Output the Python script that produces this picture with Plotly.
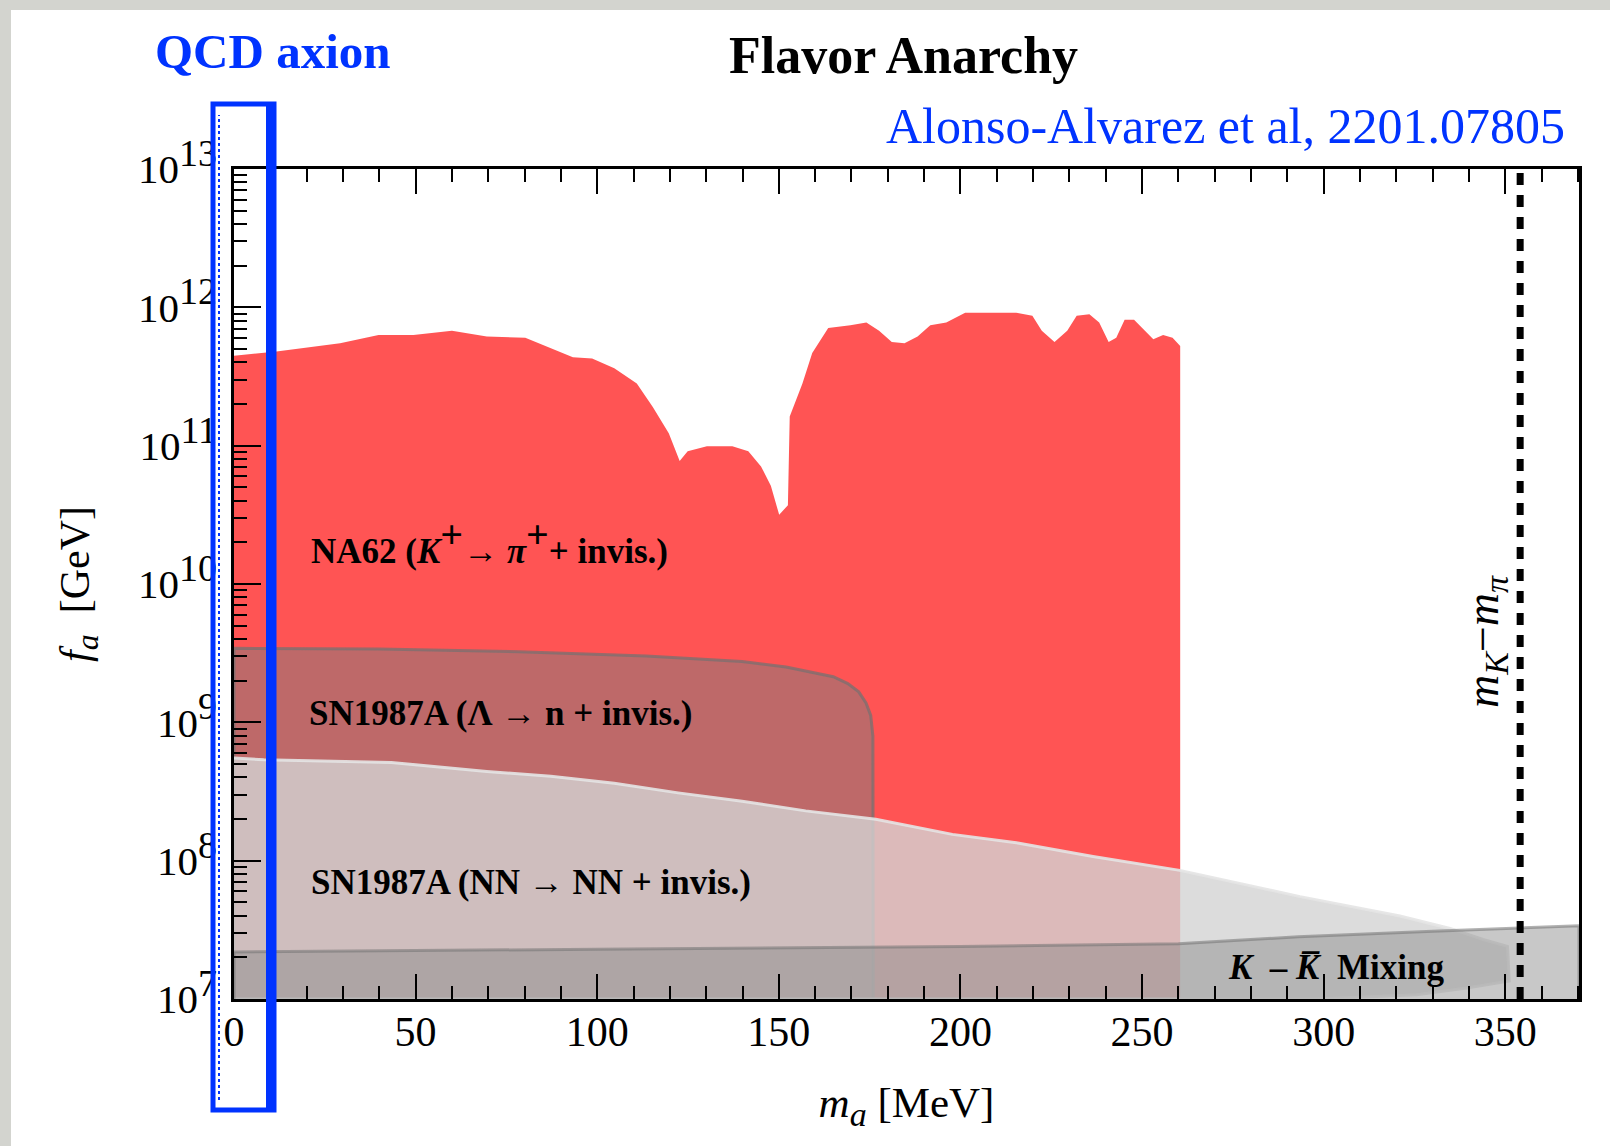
import plotly.graph_objects as go

# ---------------- data ----------------
# NA62 (K+ -> pi+ + invis.) upper boundary : m_a [MeV], log10(f_a/GeV)
na62_ma = [0, 11.7, 29.2, 39.8, 49.4, 60.0, 69.6, 80.2, 93.3, 98.6, 104.7, 110.9,
           115.3, 119.7, 122.7, 124.9, 130.2, 137.2, 141.6, 145.1, 147.8, 150.1,
           152.5, 153.0, 156.5, 159.2, 163.6, 169.7, 174.1, 177.6, 181.1, 184.6,
           188.2, 191.7, 196.1, 201.3, 208.3, 215.4, 219.8, 222.4, 225.9, 229.4,
           232.0, 235.5, 238.2, 240.8, 242.9, 245.2, 247.8, 250.5, 253.1, 255.8,
           258.4, 260.5]
na62_log_fa = [11.65, 11.68, 11.74, 11.80, 11.80, 11.83, 11.79, 11.78, 11.64, 11.63,
               11.56, 11.45, 11.28, 11.09, 10.89, 10.96, 10.995, 10.995, 10.96, 10.85,
               10.71, 10.50, 10.57, 11.21, 11.45, 11.67, 11.85, 11.87, 11.89, 11.83,
               11.75, 11.74, 11.79, 11.87, 11.89, 11.96, 11.96, 11.96, 11.94, 11.83,
               11.75, 11.83, 11.94, 11.95, 11.89, 11.75, 11.78, 11.91, 11.91, 11.84,
               11.77, 11.80, 11.78, 11.72]

# SN1987A (Lambda -> n + invis.)
lam_ma = [0, 40, 78.4, 113.5, 139.9, 152, 160, 165, 169, 172, 174, 175.3, 175.9, 176.0]
lam_log_fa = [9.535, 9.53, 9.51, 9.48, 9.44, 9.40, 9.36, 9.33, 9.28, 9.22, 9.14,
              9.05, 8.9, 7.0]

# SN1987A (NN -> NN + invis.) upper edge, then lower edge (right to left)
nn_upper_ma = [0, 8.2, 43.3, 69.6, 87.2, 104.7, 122.3, 139.9, 157.4, 176.7, 197.8,
               215.4, 236.5, 260.4, 293.5, 321.0, 334.8, 343.9, 350.6]
nn_upper_log_fa = [8.742, 8.73, 8.71, 8.645, 8.61, 8.56, 8.49, 8.43, 8.36, 8.30, 8.19,
                   8.13, 8.03, 7.93, 7.74, 7.60, 7.51, 7.43, 7.38]
nn_lower_ma = [351.1, 339.4, 325.6, 298.0, 0]
nn_lower_log_fa = [7.13, 7.08, 7.03, 7.0, 7.0]

# K - Kbar mixing upper edge
kk_ma = [0, 100, 200, 260, 293, 330, 370.3]
kk_log_fa = [7.34, 7.36, 7.38, 7.40, 7.45, 7.49, 7.53]

mk_minus_mpi = 354.1  # MeV

x_tick_vals = [0, 50, 100, 150, 200, 250, 300, 350]
y_tick_exponents = [7, 8, 9, 10, 11, 12, 13]
x_range = [0, 370.3]

# ---------------- layout geometry ----------------
FIG_W, FIG_H = 1610, 1146
M_L, M_R, M_T, M_B = 234, 31, 169, 147
PW = FIG_W - M_L - M_R
PH = FIG_H - M_T - M_B


def px_x(px):
    return (px - M_L) / PW


def px_y(py):
    return (FIG_H - M_B - py) / PH


FONT = "Liberation Serif"
RED = "#ff5454"
BLUE = "#0033ff"
YMIN = 10 ** y_tick_exponents[0]


def pow10(vals):
    return [10 ** v for v in vals]


def sup(t, px):
    return "<sup><span style='font-size:%dpx'>%s</span></sup>" % (px, t)


def sub(t, px):
    return "<sub><span style='font-size:%dpx'>%s</span></sub>" % (px, t)


fig = go.Figure()

# NA62
fig.add_trace(go.Scatter(
    x=[na62_ma[0]] + na62_ma + [na62_ma[-1]],
    y=[YMIN] + pow10(na62_log_fa) + [YMIN],
    fill="toself", fillcolor=RED, mode="lines", line=dict(width=0),
    name="NA62", showlegend=False, hoverinfo="skip"))

# SN1987A Lambda
fig.add_trace(go.Scatter(
    x=[lam_ma[0]] + lam_ma,
    y=[YMIN] + pow10(lam_log_fa),
    fill="toself", fillcolor="rgba(126,126,126,0.5)", mode="lines",
    line=dict(width=3, color="rgba(120,112,112,0.75)"),
    name="SN1987A Lambda", showlegend=False, hoverinfo="skip"))

# SN1987A NN
fig.add_trace(go.Scatter(
    x=nn_upper_ma + nn_lower_ma,
    y=pow10(nn_upper_log_fa) + pow10(nn_lower_log_fa),
    fill="toself", fillcolor="rgba(211,211,211,0.8)", mode="lines",
    line=dict(width=3, color="rgba(228,228,228,0.9)"),
    name="SN1987A NN", showlegend=False, hoverinfo="skip"))

# K-Kbar mixing
fig.add_trace(go.Scatter(
    x=[kk_ma[0]] + kk_ma + [kk_ma[-1]],
    y=[YMIN] + pow10(kk_log_fa) + [YMIN],
    fill="toself", fillcolor="rgba(135,135,135,0.46)", mode="lines",
    line=dict(width=3, color="rgba(115,115,115,0.55)"),
    name="K-Kbar", showlegend=False, hoverinfo="skip"))

# m_K - m_pi dashed line
fig.add_trace(go.Scatter(
    x=[mk_minus_mpi, mk_minus_mpi],
    y=[10 ** y_tick_exponents[0], 10 ** y_tick_exponents[-1]],
    mode="lines", line=dict(color="black", width=7, dash="12px,10px"),
    showlegend=False, hoverinfo="skip"))

fig.update_layout(
    width=FIG_W, height=FIG_H,
    margin=dict(l=M_L, r=M_R, t=M_T, b=M_B),
    paper_bgcolor="white", plot_bgcolor="white",
    font=dict(family=FONT, color="black"),
    showlegend=False,
)

fig.update_xaxes(
    range=x_range, tickvals=x_tick_vals, ticktext=[str(v) for v in x_tick_vals],
    ticks="inside", ticklen=25, tickwidth=2, tickcolor="black",
    minor=dict(ticks="inside", ticklen=13, tickwidth=2, tickcolor="black",
               dtick=10, showgrid=False),
    showline=True, linewidth=2.5, linecolor="black", mirror="ticks",
    showgrid=False, zeroline=False,
    tickfont=dict(family=FONT, size=42, color="black"),
    ticklabelstandoff=-6,
    title=dict(text="<i>m</i>" + sub("<i>a</i>", 34) + " [MeV]",
               font=dict(family=FONT, size=43, color="black"), standoff=33),
)

fig.update_yaxes(
    type="log", range=[y_tick_exponents[0], y_tick_exponents[-1]],
    tickvals=[10 ** e for e in y_tick_exponents],
    ticktext=["10" + sup(str(e), 38) for e in y_tick_exponents],
    ticks="inside", ticklen=27, tickwidth=2, tickcolor="black",
    minor=dict(ticks="inside", ticklen=13, tickwidth=2, tickcolor="black",
               dtick="D1", showgrid=False),
    showline=True, linewidth=2.5, linecolor="black", mirror=True,
    showgrid=False, zeroline=False,
    tickfont=dict(family=FONT, size=41, color="black"),
    ticklabelstandoff=6,
    title=dict(text="<i>f</i>" + sub("<i>a</i>", 32) + "\u2002[GeV]",
               font=dict(family=FONT, size=42, color="black"), standoff=36),
)

# slide frame (gray bands at top and left)
fig.add_shape(type="rect", xref="paper", yref="paper", layer="below",
              x0=px_x(0), x1=px_x(11), y0=px_y(FIG_H), y1=px_y(0),
              line=dict(width=0), fillcolor="#d3d4cf")
fig.add_shape(type="rect", xref="paper", yref="paper", layer="below",
              x0=px_x(0), x1=px_x(FIG_W), y0=px_y(10), y1=px_y(0),
              line=dict(width=0), fillcolor="#d3d4cf")

# hand-drawn QCD axion box
fig.add_shape(type="rect", xref="paper", yref="paper", layer="above",
              x0=px_x(213), x1=px_x(274), y0=px_y(1110), y1=px_y(104),
              line=dict(width=5, color=BLUE), fillcolor="rgba(0,0,0,0)")
fig.add_shape(type="line", xref="paper", yref="paper", layer="above",
              x0=px_x(271), x1=px_x(271), y0=px_y(1110), y1=px_y(104),
              line=dict(width=10, color=BLUE))
fig.add_shape(type="line", xref="paper", yref="paper", layer="above",
              x0=px_x(219), x1=px_x(219), y0=px_y(1100), y1=px_y(115),
              line=dict(width=2, color=BLUE, dash="dot"))

ann = []
ann.append(dict(text="<b>QCD axion</b>", x=px_x(153), y=px_y(52),
                xanchor="left", yanchor="middle",
                font=dict(family=FONT, size=49, color=BLUE)))
ann.append(dict(text="<b>Flavor Anarchy</b>", x=px_x(903), y=px_y(56),
                xanchor="center", yanchor="middle",
                font=dict(family=FONT, size=52, color="black")))
ann.append(dict(text="Alonso-Alvarez et al, 2201.07805", x=px_x(1567), y=px_y(126),
                xanchor="right", yanchor="middle",
                font=dict(family=FONT, size=50, color=BLUE)))
ann.append(dict(text="<b>NA62 (<i>K</i>" + sup("+", 40) + "\u2192 <i>\u03c0</i>"
                     + sup("+", 40) + "+ invis.)</b>",
                x=px_x(309), y=px_y(541), xanchor="left", yanchor="middle",
                font=dict(family=FONT, size=35, color="black")))
ann.append(dict(text="<b>SN1987A (\u039b \u2192 n + invis.)</b>",
                x=px_x(307), y=px_y(713), xanchor="left", yanchor="middle",
                font=dict(family=FONT, size=35, color="black")))
ann.append(dict(text="<b>SN1987A (NN \u2192 NN + invis.)</b>",
                x=px_x(309), y=px_y(882), xanchor="left", yanchor="middle",
                font=dict(family=FONT, size=35, color="black")))
ann.append(dict(text="<b><i>K</i>\u2002\u2013 <i>K\u0305</i>\u2002Mixing</b>",
                x=px_x(1226), y=px_y(967), xanchor="left", yanchor="middle",
                font=dict(family=FONT, size=35, color="black")))
ann.append(dict(text="<i>m</i>" + sub("<i>K</i>", 34) + "\u2212<i>m</i>" + sub("<i>\u03c0</i>", 34),
                x=px_x(1486), y=px_y(642), xanchor="center", yanchor="middle",
                textangle=-90, font=dict(family=FONT, size=46, color="black")))
for a in ann:
    a.update(xref="paper", yref="paper", showarrow=False)
fig.update_layout(annotations=ann)

fig.write_html("out.html")
